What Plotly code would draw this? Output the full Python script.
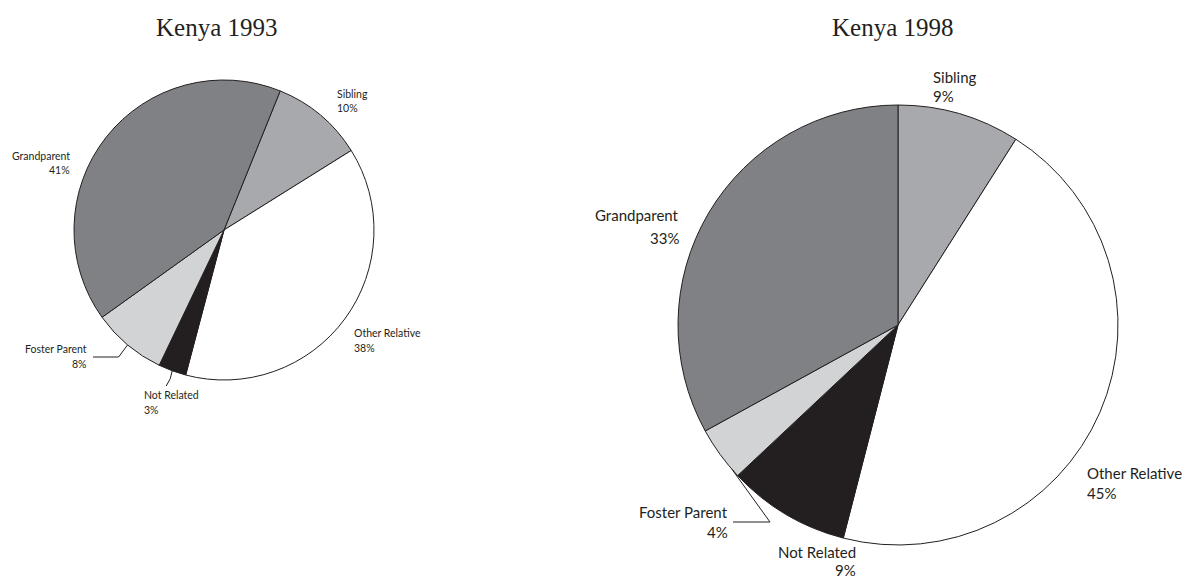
import math
import plotly.graph_objects as go

# Who the children live with, share of total (%)
categories = ["Sibling", "Other Relative", "Not Related", "Foster Parent", "Grandparent"]
pct_1993 = [10, 38, 3, 8, 41]
pct_1998 = [9, 45, 9, 4, 33]
titles = ["Kenya 1993", "Kenya 1998"]

slice_colors = ["#a7a9ac", "#ffffff", "#231f20", "#d1d3d4", "#808184"]

W, H = 1191, 580
LABEL_FONT = "Lato"
TITLE_FONT = "Liberation Serif"

# pixel geometry of each pie: centre, radius, start angle (deg clockwise from 12 o'clock)
geom = [
    dict(cx=224, cy=230, r=150, rot=22),
    dict(cx=898, cy=325, r=220, rot=0),
]


def px(x, y):
    return x / W, 1 - y / H


def domain(g):
    return dict(x=[(g["cx"] - g["r"]) / W, (g["cx"] + g["r"]) / W],
                y=[1 - (g["cy"] + g["r"]) / H, 1 - (g["cy"] - g["r"]) / H])


def edge_point(g, values, idx, frac=0.5):
    """Point on the rim of slice idx (frac=0..1 across the slice)."""
    total = sum(values)
    start = sum(values[:idx])
    ang = math.radians(g["rot"] + 360 * (start + values[idx] * frac) / total)
    return g["cx"] + g["r"] * math.sin(ang), g["cy"] - g["r"] * math.cos(ang)


fig = go.Figure()
for g, vals in zip(geom, [pct_1993, pct_1998]):
    fig.add_trace(go.Pie(
        labels=categories, values=vals, sort=False, direction="clockwise",
        rotation=g["rot"], textinfo="none", hoverinfo="label+percent",
        marker=dict(colors=slice_colors, line=dict(color="#231f20", width=1)),
        domain=domain(g), showlegend=False,
    ))

annotations = []


def label(x, y, text, size, anchor):
    xp, yp = px(x, y)
    annotations.append(dict(x=xp, y=yp, xref="paper", yref="paper", text=text,
                            showarrow=False, xanchor=anchor, yanchor="middle",
                            font=dict(family=LABEL_FONT, size=size, color="#231f20")))


# titles
for (x, y), t in zip([(217, 28), (893, 28)], titles):
    xp, yp = px(x, y)
    annotations.append(dict(x=xp, y=yp, xref="paper", yref="paper", text=t,
                            showarrow=False, xanchor="center", yanchor="middle",
                            font=dict(family=TITLE_FONT, size=25, color="#231f20")))

# 1993 slice labels: (name position, percent position, anchor)
s1 = 10.5
lab93 = {
    "Sibling": ((335, 94), (335, 108), "left"),
    "Other Relative": ((352, 333), (352, 348), "left"),
    "Not Related": ((142, 395), (142, 410), "left"),
    "Foster Parent": ((89, 349), (89, 364), "right"),
    "Grandparent": ((72, 156), (72, 170), "right"),
}
for i, name in enumerate(categories):
    (nx, ny), (vx, vy), a = lab93[name]
    label(nx, ny, name, s1, a)
    label(vx, vy, f"{pct_1993[i]}%", s1, a)

s2 = 15
lab98 = {
    "Sibling": ((931, 77), (931, 96), "left"),
    "Other Relative": ((1085, 473), (1085, 493), "left"),
    "Not Related": ((858, 552), (858, 570), "right"),
    "Foster Parent": ((730, 512), (730, 532), "right"),
    "Grandparent": ((681, 215), (681, 238), "right"),
}
for i, name in enumerate(categories):
    (nx, ny), (vx, vy), a = lab98[name]
    label(nx, ny, name, s2, a)
    label(vx, vy, f"{pct_1998[i]}%", s2, a)

# leader lines for the thin slices
shapes = []


def leader(points):
    pts = [px(x, y) for x, y in points]
    path = "M " + " L ".join(f"{x},{y}" for x, y in pts)
    shapes.append(dict(type="path", xref="paper", yref="paper", path=path,
                       line=dict(color="#231f20", width=1)))


fi = categories.index("Foster Parent")
ni = categories.index("Not Related")

ax, ay = edge_point(geom[0], pct_1993, fi, 0.5)
leader([(93, 357), (ax - 9, 357), (ax, ay)])
ax, ay = edge_point(geom[0], pct_1993, ni, 0.5)
leader([(ax, ay), (ax - 2, ay + 8), (ax - 6, 386)])
ax, ay = edge_point(geom[1], pct_1998, fi, 0.15)
leader([(733, 522), (770, 522), (ax, ay)])

fig.update_layout(
    width=W, height=H, margin=dict(l=0, r=0, t=0, b=0),
    paper_bgcolor="white", plot_bgcolor="white",
    annotations=annotations, shapes=shapes,
)

fig.write_html("out.html")
